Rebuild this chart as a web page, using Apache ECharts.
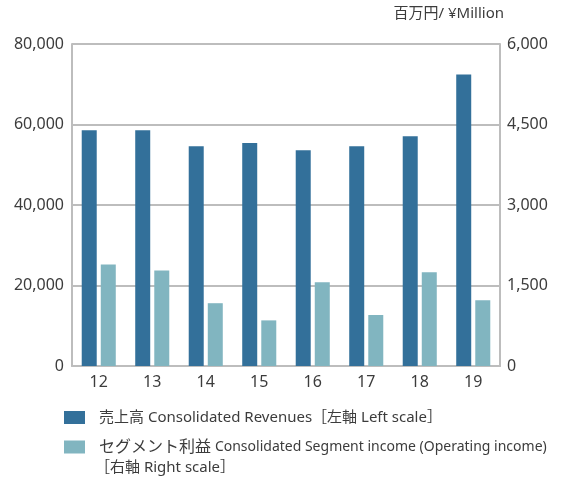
<!DOCTYPE html>
<html>
<head>
<meta charset="utf-8">
<script src="https://cdn.jsdelivr.net/npm/echarts@6/dist/echarts.min.js"></script>
<style>
  html, body { margin: 0; padding: 0; background: #fff; }
  #chart { width: 561px; height: 478px; }
</style>
</head>
<body>
<div id="chart"></div>
<script>
// 年度
const years = ["12", "13", "14", "15", "16", "17", "18", "19"];
// 売上高（左軸）
const revenues = [58600, 58600, 54600, 55400, 53600, 54600, 57100, 72400];
// セグメント利益（右軸）
const segmentIncome = [1890, 1780, 1170, 850, 1560, 950, 1745, 1225];
// 目盛り
const leftTicks = [0, 20000, 40000, 60000, 80000];
const rightTicks = [0, 1500, 3000, 4500, 6000];

const darkColor = "#33709a";
const lightColor = "#81b5c0";
const gridColor = "#bdbdbd";
const textColor = "#3c3c3c";
const fontFamily = "'Noto Sans', 'Noto Sans CJK JP', sans-serif";

const chart = echarts.init(document.getElementById("chart"));

const option = {
  animation: false,
  textStyle: { fontFamily: fontFamily },
  title: {
    text: "百万円/ ¥Million",
    right: 57,
    top: 6,
    padding: 0,
    textStyle: { fontSize: 15, fontWeight: "normal", color: textColor, fontFamily: fontFamily },
  },
  grid: { left: 72, right: 61, top: 44, bottom: 112 },
  legend: {
    left: 64,
    top: 410,
    padding: 0,
    orient: "vertical",
    itemWidth: 21,
    itemHeight: 13,
    itemGap: 14,
    itemStyle: { borderWidth: 0 },
    icon: "rect",
    textStyle: {
      color: textColor,
      fontSize: 15,
      padding: [0, 0, 0, 9],
      rich: {
        big: { fontSize: 15, color: textColor, fontFamily: fontFamily },
        jp: { fontSize: 16, color: textColor, fontFamily: fontFamily },
        small: { fontSize: 14, color: textColor, fontFamily: fontFamily },
      },
    },
    formatter(name) {
      if (name === "セグメント利益") {
        return "{jp|セグメント利益} {small|Consolidated Segment income (Operating income)}";
      }
      return "{big|売上高 Consolidated Revenues［左軸 Left scale］}";
    },
    data: ["売上高", "セグメント利益"],
  },
  graphic: [
    {
      type: "text",
      left: 95,
      top: 460,
      style: { text: "［右軸 Right scale］", fontSize: 15, fill: textColor, fontFamily: fontFamily },
    },
  ],
  xAxis: {
    type: "category",
    data: years,
    axisLine: { lineStyle: { color: gridColor, width: 2 } },
    axisTick: { inside: true, length: 8, lineStyle: { color: gridColor, width: 2 } },
    axisLabel: { color: textColor, fontSize: 16, margin: 8 },
  },
  yAxis: [
    {
      type: "value",
      min: leftTicks[0],
      max: leftTicks[leftTicks.length - 1],
      interval: leftTicks[1] - leftTicks[0],
      axisLine: { show: true, lineStyle: { color: gridColor, width: 2 } },
      axisTick: { show: false },
      splitLine: { lineStyle: { color: gridColor, width: 2 } },
      axisLabel: {
        color: textColor,
        fontSize: 16,
        margin: 8,
        formatter: (v) => v.toLocaleString("en-US"),
      },
    },
    {
      type: "value",
      min: rightTicks[0],
      max: rightTicks[rightTicks.length - 1],
      interval: rightTicks[1] - rightTicks[0],
      axisLine: { show: true, lineStyle: { color: gridColor, width: 2 } },
      axisTick: { show: false },
      splitLine: { show: false },
      axisLabel: {
        color: textColor,
        fontSize: 16,
        margin: 7,
        formatter: (v) => v.toLocaleString("en-US"),
      },
    },
  ],
  series: [
    {
      name: "売上高",
      type: "bar",
      yAxisIndex: 0,
      barWidth: 15,
      barGap: "27%",
      itemStyle: { color: darkColor },
      data: revenues,
    },
    {
      name: "セグメント利益",
      type: "bar",
      yAxisIndex: 1,
      barWidth: 15,
      barGap: "27%",
      itemStyle: { color: lightColor },
      data: segmentIncome,
    },
  ],
};

chart.setOption(option);
</script>
</body>
</html>
